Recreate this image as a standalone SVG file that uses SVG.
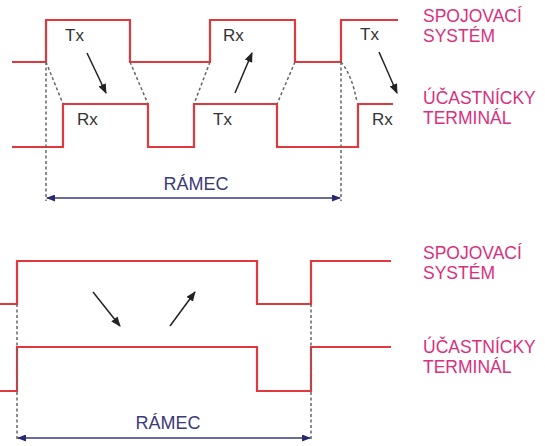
<svg xmlns="http://www.w3.org/2000/svg" width="545" height="446" viewBox="0 0 545 446">
<style>
.sig{fill:none;stroke:#e0383c;stroke-width:2.2;stroke-linejoin:miter}
.dot{fill:none;stroke:#666;stroke-width:1.5;stroke-dasharray:3,2.5}
.arr{fill:none;stroke:#222;stroke-width:1.5;marker-end:url(#ah)}
.frm{fill:none;stroke:#3a3a80;stroke-width:1.5;marker-start:url(#fh);marker-end:url(#fh)}
.lbl{font-family:"Liberation Sans",Arial,sans-serif;font-size:17.5px;fill:#d9307e}
.tr{font-family:"Liberation Sans",Arial,sans-serif;font-size:17px;fill:#333}
.fr{font-family:"Liberation Sans",Arial,sans-serif;font-size:18px;fill:#3a3a7c;text-anchor:middle}
</style>
<defs>
<marker id="ah" markerWidth="10" markerHeight="8" refX="9" refY="4" orient="auto" markerUnits="userSpaceOnUse"><path d="M0,0 L10,4 L0,8 Z" fill="#222"/></marker>
<marker id="fh" markerWidth="9" markerHeight="7" refX="8" refY="3.5" orient="auto-start-reverse" markerUnits="userSpaceOnUse"><path d="M0,0 L9,3.5 L0,7 Z" fill="#2a2a70"/></marker>
</defs>
<g id="top-spojovaci">
<path class="sig" d="M12,62 H46 V20 H130 V62 H210 V20 H295 V62 H341 V20 H398"/>
<text class="lbl" x="423" y="22">SPOJOVACÍ</text>
<text class="lbl" x="423" y="42">SYSTÉM</text>
</g>
<g id="top-ucastnicky">
<path class="sig" d="M12,147 H63 V104 H148 V147 H194 V104 H277 V147 H358 V104 H393"/>
<text class="lbl" x="423" y="104">ÚČASTNÍCKY</text>
<text class="lbl" x="423" y="124">TERMINÁL</text>
</g>
<g id="top-labels">
<text class="tr" x="65" y="41">Tx</text>
<text class="tr" x="77" y="125">Rx</text>
<text class="tr" x="223" y="41">Rx</text>
<text class="tr" x="213" y="125">Tx</text>
<text class="tr" x="360" y="40">Tx</text>
<text class="tr" x="372" y="125">Rx</text>
<text class="fr" x="196" y="190">RÁMEC</text>
</g>
<g id="bottom-spojovaci">
<path class="sig" d="M0,304 H17 V261 H257 V304 H311 V261 H391"/>
<text class="lbl" x="423" y="259">SPOJOVACÍ</text>
<text class="lbl" x="423" y="279">SYSTÉM</text>
</g>
<g id="bottom-ucastnicky">
<path class="sig" d="M0,391 H17 V347 H257 V391 H311 V347 H391"/>
<text class="lbl" x="423" y="353">ÚČASTNÍCKY</text>
<text class="lbl" x="423" y="373">TERMINÁL</text>
</g>
<g id="bottom-labels">
<text class="fr" x="168" y="429">RÁMEC</text>
</g>
<g id="connectors">
<path class="dot" d="M46,62 L63,104"/>
<path class="dot" d="M130,62 L148,104"/>
<path class="dot" d="M210,62 L194,104"/>
<path class="dot" d="M295,62 L277,104"/>
<path class="dot" d="M341,62 Q352,75 357,102"/>
<path class="dot" d="M46,62 V201"/>
<path class="dot" d="M341,62 V201"/>
<path class="arr" d="M87,53 L106,93"/>
<path class="arr" d="M235,93 L252,53"/>
<path class="arr" d="M379,52 L397,93"/>
<path class="frm" d="M47,198 H340"/>
<path class="dot" d="M17,304 V441"/>
<path class="dot" d="M311,304 V441"/>
<path class="arr" d="M93,292 L120,326"/>
<path class="arr" d="M170,326 L195,292"/>
<path class="frm" d="M18,438 H310"/>
</g>
</svg>
